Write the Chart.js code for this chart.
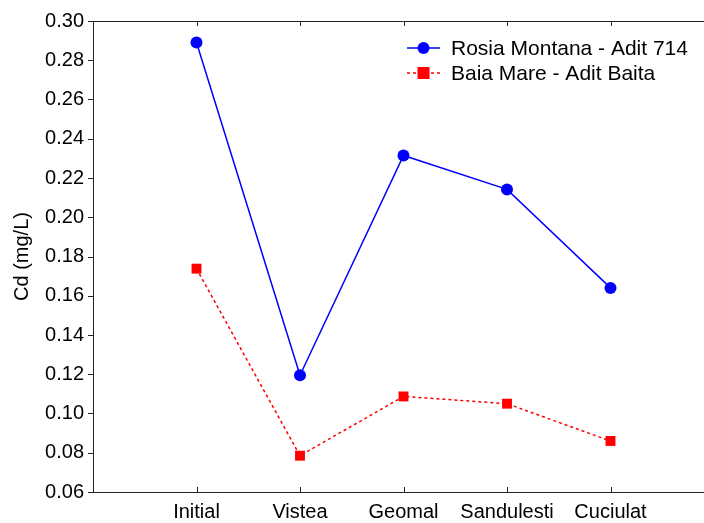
<!DOCTYPE html>
<html>
<head>
<meta charset="utf-8">
<script src="https://cdn.jsdelivr.net/npm/chart.js@4/dist/chart.umd.min.js"></script>
<style>
html,body{margin:0;padding:0;background:#fff;overflow:hidden;}
#wrap{width:722px;height:523px;position:relative;}
</style>
</head>
<body>
<div id="wrap"><canvas id="c" width="721" height="523" style="width:721px;height:523px"></canvas></div>
<script>
const categories = ["Initial", "Vistea", "Geomal", "Sandulesti", "Cuciulat"];
const rosiaMontana = [0.289, 0.1195, 0.2315, 0.2142, 0.164];
const baiaMare = [0.1738, 0.0785, 0.1087, 0.1050, 0.0860];
const yTicks = [0.06, 0.08, 0.10, 0.12, 0.14, 0.16, 0.18, 0.20, 0.22, 0.24, 0.26, 0.28, 0.30];
const seriesNames = ["Rosia Montana - Adit 714", "Baia Mare - Adit Baita"];

const FONT = "'Liberation Sans', Arial, sans-serif";
const AXIS = "#222";

const toPoints = arr => arr.map((v, i) => ({x: i + 1, y: v}));

const axesPlugin = {
  id: 'axesPlugin',
  afterDraw(chart) {
    const ctx = chart.ctx;
    const a = chart.chartArea;
    const xs = chart.scales.x, ys = chart.scales.y;
    ctx.save();
    ctx.strokeStyle = AXIS;
    ctx.lineWidth = 1;
    ctx.beginPath();
    ctx.moveTo(a.left + 0.5, a.top);
    ctx.lineTo(a.left + 0.5, a.bottom);
    ctx.moveTo(a.left, a.bottom + 0.5);
    ctx.lineTo(a.right, a.bottom + 0.5);
    ctx.moveTo(a.left, a.top + 0.5);
    ctx.lineTo(a.right, a.top + 0.5);
    yTicks.forEach(v => {
      const y = Math.round(ys.getPixelForValue(v)) + 0.5;
      ctx.moveTo(a.left - 5, y);
      ctx.lineTo(a.left, y);
    });
    categories.forEach((c, i) => {
      const x = Math.round(xs.getPixelForValue(i + 1)) + 0.5;
      ctx.moveTo(x, a.bottom);
      ctx.lineTo(x, a.bottom - 5);
      ctx.moveTo(x, a.top);
      ctx.lineTo(x, a.top + 5);
    });
    ctx.stroke();

    const items = [
      {name: seriesNames[0], color: '#0000ff', dash: [], shape: 'circle'},
      {name: seriesNames[1], color: '#ff0000', dash: [3, 3], shape: 'rect'}
    ];
    const lx0 = 407, lx1 = 440, tx = 451;
    const rows = [48, 73];
    ctx.font = "21px " + FONT;
    ctx.textBaseline = 'middle';
    ctx.textAlign = 'left';
    items.forEach((it, k) => {
      const y = rows[k];
      ctx.strokeStyle = it.color;
      ctx.lineWidth = 1.5;
      ctx.setLineDash(it.dash);
      ctx.beginPath();
      ctx.moveTo(lx0, y);
      ctx.lineTo(lx1, y);
      ctx.stroke();
      ctx.setLineDash([]);
      ctx.fillStyle = it.color;
      const cx = (lx0 + lx1) / 2;
      if (it.shape === 'circle') {
        ctx.beginPath();
        ctx.arc(cx, y, 6, 0, Math.PI * 2);
        ctx.fill();
      } else {
        ctx.fillRect(cx - 6, y - 6, 12, 12);
      }
      ctx.fillStyle = '#000';
      ctx.fillText(it.name, tx, y + 1);
    });
    ctx.restore();
  }
};

new Chart(document.getElementById('c'), {
  type: 'line',
  data: {
    datasets: [
      {
        label: seriesNames[0],
        data: toPoints(rosiaMontana),
        borderColor: '#0000ff',
        backgroundColor: '#0000ff',
        borderWidth: 1.5,
        pointStyle: 'circle',
        pointRadius: 6,
        pointHoverRadius: 6,
        pointBorderWidth: 0,
        tension: 0
      },
      {
        label: seriesNames[1],
        data: toPoints(baiaMare),
        borderColor: '#ff0000',
        backgroundColor: '#ff0000',
        borderWidth: 1.5,
        borderDash: [3, 3],
        pointStyle: 'rect',
        pointRadius: 7,
        pointHoverRadius: 7,
        pointBorderWidth: 0,
        tension: 0
      }
    ]
  },
  options: {
    responsive: false,
    animation: false,
    events: [],
    layout: {padding: {top: 19, right: 1, left: 0, bottom: 0}},
    plugins: {legend: {display: false}, tooltip: {enabled: false}},
    scales: {
      x: {
        type: 'linear',
        min: 0,
        max: 6,
        afterFit(s) { s.height = 31; },
        afterBuildTicks(s) { s.ticks = categories.map((c, i) => ({value: i + 1})); },
        ticks: {
          autoSkip: false,
          maxRotation: 0,
          padding: 8,
          color: '#000',
          font: {family: FONT, size: 20},
          callback: v => categories[v - 1] || ''
        },
        grid: {display: false, drawTicks: false, tickLength: 0},
        border: {display: false}
      },
      y: {
        min: 0.06,
        max: 0.30,
        afterFit(s) { s.width = 93; },
        afterBuildTicks(s) { s.ticks = yTicks.map(v => ({value: v})); },
        ticks: {
          padding: 9,
          color: '#000',
          font: {family: FONT, size: 20},
          callback: v => v.toFixed(2)
        },
        grid: {display: false, drawTicks: false, tickLength: 0},
        border: {display: false},
        title: {
          display: true,
          text: 'Cd (mg/L)',
          color: '#000',
          font: {family: FONT, size: 20},
          padding: {top: 10, bottom: 0}
        }
      }
    }
  },
  plugins: [axesPlugin]
});
</script>
</body>
</html>
